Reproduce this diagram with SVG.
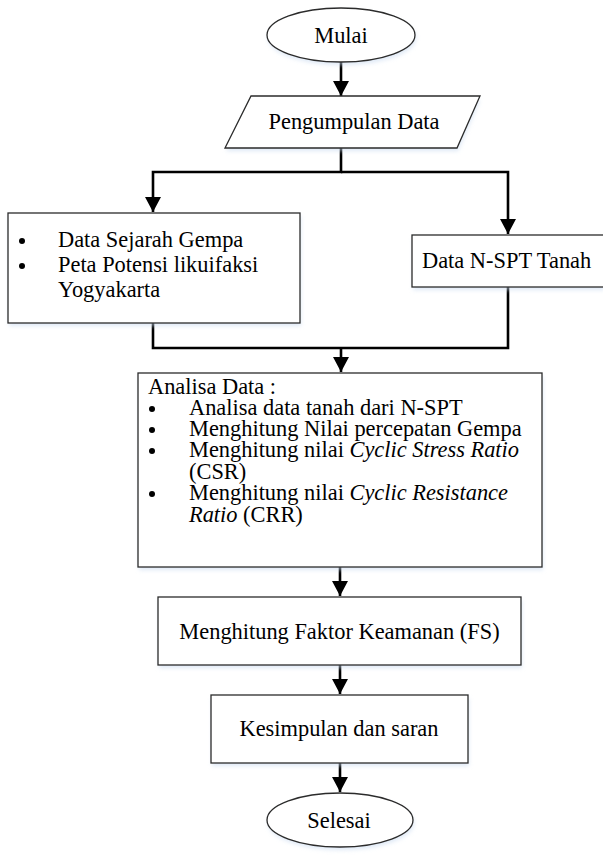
<svg xmlns="http://www.w3.org/2000/svg" width="603" height="857" viewBox="0 0 603 857">
<style>
.shape{fill:#ffffff;stroke:#2b2b2b;stroke-width:1.3}
.t{font-family:'Liberation Serif','Times New Roman',serif;font-size:22.4px;fill:#000}
.c{text-anchor:middle}
.i{font-style:italic}
.conn{fill:none;stroke:#000;stroke-width:2.6}
.bul{fill:#000}
.sh{fill:#c9daf0;opacity:0.6;filter:url(#blur)}
</style>
<defs>
<marker id="arr" markerUnits="userSpaceOnUse" markerWidth="16" markerHeight="16" refX="15" refY="8" orient="auto">
<path d="M0,0 L15,8 L0,16 z" fill="#000"/>
</marker>
<filter id="blur" x="-10%" y="-10%" width="120%" height="130%"><feGaussianBlur stdDeviation="2"/></filter>
</defs>
<rect width="603" height="857" fill="#fff"/>
<g id="connectors">
<path class="conn" d="M341 62 V96" marker-end="url(#arr)"/>
<path class="conn" d="M341 148 V172 H153 V212" marker-end="url(#arr)"/>
<path class="conn" d="M341 172 H508 V234" marker-end="url(#arr)"/>
<path class="conn" d="M153 323 V348 H508 V287"/>
<path class="conn" d="M341 348 V372" marker-end="url(#arr)"/>
<path class="conn" d="M340 567 V596" marker-end="url(#arr)"/>
<path class="conn" d="M340 665 V694" marker-end="url(#arr)"/>
<path class="conn" d="M340 763 V792" marker-end="url(#arr)"/>
</g>
<g id="mulai">
<ellipse class="sh" cx="342" cy="38" rx="74" ry="27"/>
<ellipse class="shape" cx="341" cy="35" rx="74" ry="27"/>
<text class="t c" x="341" y="43">Mulai</text>
</g>
<g id="pengumpulan">
<polygon class="sh" points="252,100 480,100 458,151 226,151"/>
<polygon class="shape" points="251,96 480,96 457,148 225,148"/>
<text class="t c" x="354" y="129">Pengumpulan Data</text>
</g>
<g id="data-gempa">
<rect class="sh" x="9" y="216" width="292" height="110"/>
<rect class="shape" x="8" y="213" width="292" height="110"/>
<circle class="bul" cx="22" cy="241" r="3"/>
<circle class="bul" cx="22" cy="266" r="3"/>
<text class="t" x="58" y="247">Data Sejarah Gempa</text>
<text class="t" x="58" y="272">Peta Potensi likuifaksi</text>
<text class="t" x="58" y="297">Yogyakarta</text>
</g>
<g id="data-nspt">
<rect class="sh" x="413" y="238" width="192" height="52"/>
<rect class="shape" x="412" y="235" width="192" height="52"/>
<text class="t" x="422" y="268">Data N-SPT Tanah</text>
</g>
<g id="analisa">
<rect class="sh" x="139" y="376" width="404" height="194"/>
<rect class="shape" x="138" y="373" width="404" height="194"/>
<text class="t" x="148" y="394">Analisa Data :</text>
<circle class="bul" cx="152" cy="409" r="3"/>
<circle class="bul" cx="152" cy="430" r="3"/>
<circle class="bul" cx="152" cy="451" r="3"/>
<circle class="bul" cx="152" cy="494" r="3"/>
<text class="t" x="189" y="415">Analisa data tanah dari N-SPT</text>
<text class="t" x="189" y="436">Menghitung Nilai percepatan Gempa</text>
<text class="t" x="189" y="457">Menghitung nilai <tspan class="i">Cyclic Stress Ratio</tspan></text>
<text class="t" x="189" y="479">(CSR)</text>
<text class="t" x="189" y="500">Menghitung nilai <tspan class="i">Cyclic Resistance</tspan></text>
<text class="t" x="189" y="522"><tspan class="i">Ratio</tspan> (CRR)</text>
</g>
<g id="faktor-keamanan">
<rect class="sh" x="159" y="600" width="363" height="68"/>
<rect class="shape" x="158" y="597" width="363" height="68"/>
<text class="t c" x="339.5" y="639">Menghitung Faktor Keamanan (FS)</text>
</g>
<g id="kesimpulan">
<rect class="sh" x="212" y="698" width="257" height="68"/>
<rect class="shape" x="211" y="695" width="257" height="68"/>
<text class="t c" x="339" y="736">Kesimpulan dan saran</text>
</g>
<g id="selesai">
<ellipse class="sh" cx="341" cy="823" rx="73" ry="27"/>
<ellipse class="shape" cx="340" cy="820" rx="73" ry="27"/>
<text class="t c" x="339" y="828">Selesai</text>
</g>
</svg>
